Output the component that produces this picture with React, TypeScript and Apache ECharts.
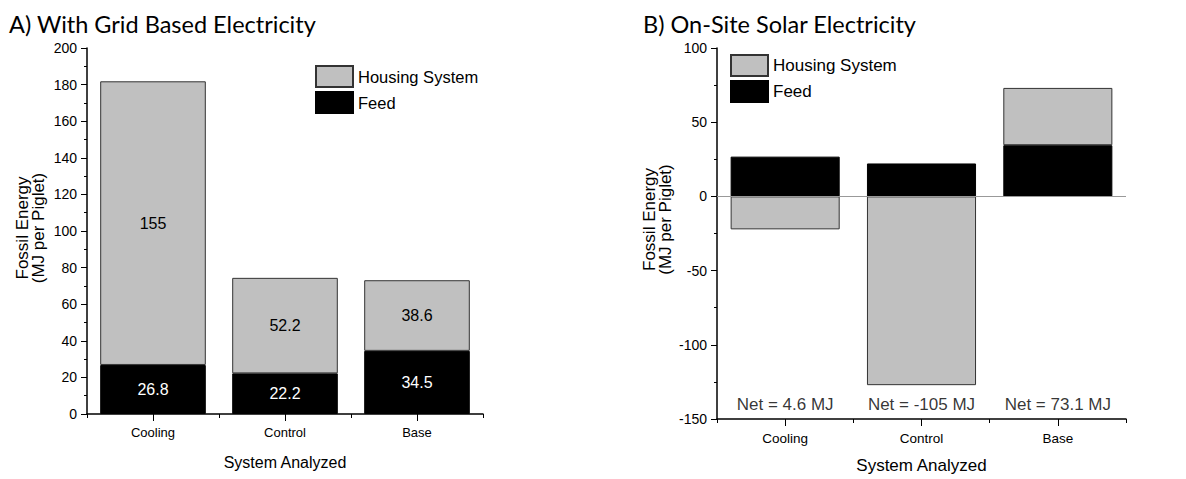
import React, { useEffect, useRef } from "react";
import * as echarts from "echarts";

const categories = ["Cooling", "Control", "Base"];
const gridFeed = [26.8, 22.2, 34.5];
const gridHousing = [155, 52.2, 38.6];
const solarFeed = [26.8, 22.2, 34.5];
const solarHousing = [-22.2, -127.2, 38.6];
const netLabels = ["Net = 4.6 MJ", "Net = -105 MJ", "Net = 73.1 MJ"];
const yTicksA = { min: 0, max: 200, interval: 20 };
const yTicksB = { min: -150, max: 100, interval: 50 };

const GRAY = "#c0c0c0";
const FONT = "Arial";
const TITLE_FONT = "Lato";

export default function App() {
  const ref = useRef<HTMLDivElement>(null);
  useEffect(() => {
    document.body.style.margin = "0";
    const chart = echarts.init(ref.current!, null, { renderer: "svg" });

    const mainX = (gridIndex: number, nameGap: number, nameSize: number, labelSize: number) => ({
      type: "category",
      gridIndex,
      data: categories,
      position: "bottom",
      name: "System Analyzed",
      nameLocation: "middle",
      nameGap,
      nameTextStyle: { fontFamily: FONT, fontSize: nameSize, color: "#000" },
      axisLine: { show: true, onZero: false, lineStyle: { color: "#000", width: 1.5 } },
      axisTick: { show: true, alignWithLabel: true, length: 7, lineStyle: { color: "#000" } },
      axisLabel: { fontFamily: FONT, fontSize: labelSize, color: "#000", margin: 12 },
      splitLine: { show: false },
    });
    const boundX = (gridIndex: number) => ({
      type: "category",
      gridIndex,
      data: categories,
      position: "bottom",
      axisLine: { show: false, onZero: false },
      axisTick: { show: true, alignWithLabel: false, length: 4, lineStyle: { color: "#000" } },
      axisLabel: { show: false },
      splitLine: { show: false },
    });
    const yAx = (gridIndex: number, t: { min: number; max: number; interval: number }, nameGap: number, shift: number) => ({
      type: "value",
      gridIndex,
      min: t.min,
      max: t.max,
      interval: t.interval,
      name: "Fossil Energy\n(MJ per Piglet)",
      nameLocation: "middle",
      nameGap,
      nameTextStyle: { fontFamily: FONT, fontSize: 17, color: "#000", lineHeight: 16, padding: [0, 0, 0, shift] },
      axisLine: { show: true, lineStyle: { color: "#000", width: 1.5 } },
      axisTick: { show: true, inside: false, length: 6, lineStyle: { color: "#000" } },
      minorTick: { show: true, splitNumber: 2, length: 3, lineStyle: { color: "#000" } },
      axisLabel: { fontFamily: FONT, fontSize: 14, color: "#000", margin: 10 },
      splitLine: { show: false },
    });

    const legend = (left: number, top: number, size: number) => ({
      data: ["Housing System", "Feed"],
      orient: "vertical",
      left,
      top,
      itemWidth: 37,
      itemHeight: 21,
      itemGap: 3,
      icon: "rect",
      textStyle: { fontFamily: FONT, fontSize: size, color: "#000" },
    });

    chart.setOption({
      animation: false,
      title: [
        { text: "A) With Grid Based Electricity", left: 4, top: 7, textStyle: { fontFamily: TITLE_FONT, fontSize: 23.5, fontWeight: "normal", color: "#000" } },
        { text: "B) On-Site Solar Electricity", left: 638, top: 7, textStyle: { fontFamily: TITLE_FONT, fontSize: 23.5, fontWeight: "normal", color: "#000" } },
      ],
      legend: [legend(310, 60, 16.5), legend(725, 49, 17)],
      grid: [
        { left: 87, top: 48, width: 396, height: 366 },
        { left: 717, top: 48, width: 409, height: 372 },
      ],
      xAxis: [mainX(0, 40, 16, 13), boundX(0), mainX(1, 38, 17, 13.5), boundX(1)],
      yAxis: [yAx(0, yTicksA, 41, 6), yAx(1, yTicksB, 44, 28)],
      series: [
        {
          name: "Feed", type: "bar", stack: "a", xAxisIndex: 0, yAxisIndex: 0, barWidth: "80%",
          data: gridFeed,
          itemStyle: { color: "#000", borderColor: "#000", borderWidth: 1 },
          label: { show: true, position: "inside", color: "#fff", fontFamily: FONT, fontSize: 16 },
        },
        {
          name: "Housing System", type: "bar", stack: "a", xAxisIndex: 0, yAxisIndex: 0, barWidth: "80%",
          data: gridHousing,
          itemStyle: { color: GRAY, borderColor: "#333", borderWidth: 1 },
          label: { show: true, position: "inside", color: "#000", fontFamily: FONT, fontSize: 16 },
        },
        {
          name: "Feed", type: "bar", stack: "b", xAxisIndex: 2, yAxisIndex: 1, barWidth: "80%",
          data: solarFeed,
          itemStyle: { color: "#000", borderColor: "#000", borderWidth: 1 },
          markLine: {
            silent: true, symbol: "none", label: { show: false },
            lineStyle: { color: "#999", width: 1, type: "solid" },
            data: [{ yAxis: 0 }],
          },
        },
        {
          name: "Housing System", type: "bar", stack: "b", xAxisIndex: 2, yAxisIndex: 1, barWidth: "80%",
          data: solarHousing,
          itemStyle: { color: GRAY, borderColor: "#333", borderWidth: 1 },
        },
        {
          name: "Net", type: "scatter", xAxisIndex: 2, yAxisIndex: 1, symbolSize: 0,
          data: netLabels.map(() => yTicksB.min),
          label: {
            show: true, position: "top", distance: 6, color: "#000", fontFamily: FONT, fontSize: 17,
            formatter: (p: any) => netLabels[p.dataIndex],
          },
        },
      ],
    });
    return () => chart.dispose();
  }, []);
  return <div ref={ref} style={{ width: 1186, height: 479 }} />;
}
